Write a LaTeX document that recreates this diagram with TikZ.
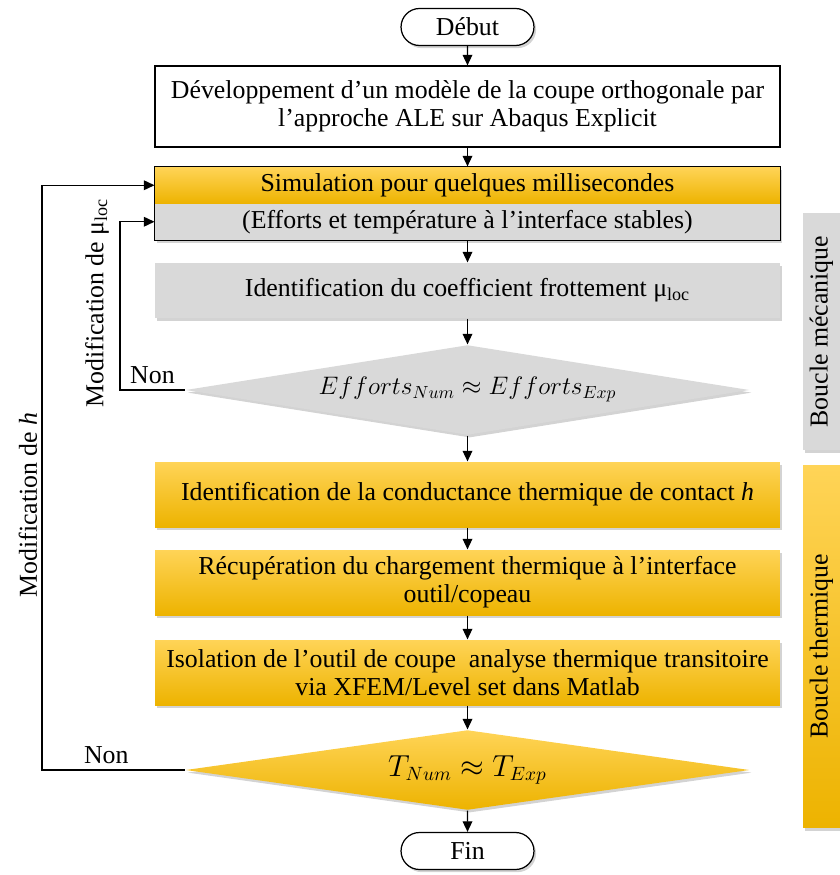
\documentclass[tikz,border=0pt]{standalone}
\usepackage{fontspec}
\setmainfont{Liberation Serif}
\usetikzlibrary{arrows.meta,shapes.geometric,shapes.misc,shadows}

\definecolor{orclair}{HTML}{FFD457}
\definecolor{ormoyen}{HTML}{FFC000}
\definecolor{orfonce}{HTML}{EDB300}
\definecolor{gris}{HTML}{D9D9D9}

\tikzset{
  ombre/.style={drop shadow={shadow xshift=1.2pt, shadow yshift=-1.5pt, opacity=0.35}},
  terminal/.style={rounded rectangle, draw, fill=white, minimum width=2.8cm,
    minimum height=0.74cm, inner sep=2pt, ombre},
  boite/.style={rectangle, minimum width=12.5cm, align=center, inner sep=2pt},
  boiteor/.style={boite, top color=orclair, middle color=ormoyen, bottom color=orfonce, ombre},
  boitegris/.style={boite, fill=gris, ombre},
  decision/.style={diamond, minimum width=11.28cm, inner sep=0pt, ombre},
}

\begin{document}
\begin{tikzpicture}[x=0.02cm, y=-0.02cm, font=\fontsize{14.7}{16}\selectfont,
    >={Triangle[length=6pt,width=5.5pt]}, line width=0.7pt]
  \useasboundingbox (0,0) rectangle (839,875);
  \def\xc{467.5}   % axe des boites

  % ----- chaine principale -----
  \node[terminal] (debut) at (\xc,27) {Début};
  \node[boite, draw, fill=white, minimum height=1.62cm] (modele) at (\xc,106.5)
    {Développement d’un modèle de la coupe orthogonale par\\ l’approche ALE sur Abaqus Explicit};
  \node[boiteor, minimum height=0.73cm] (simA) at (\xc,185.25)
    {Simulation pour quelques millisecondes};
  \node[boitegris, minimum height=0.73cm] (simB) at (\xc,221.75)
    {(Efforts et température à l’interface stables)};
  \draw (simA.north west) rectangle (simB.south east);
  \node[boitegris, minimum height=1.1cm] (ident) at (\xc,290.5)
    {Identification du coefficient frottement μ\textsubscript{loc}};
  \node[decision, fill=gris, aspect=6.27, minimum height=1.8cm] (effort) at (\xc,390)
    {\raisebox{5pt}{$Efforts_{Num} \approx Efforts_{Exp}$}};
  \node[boiteor, minimum height=1.3cm] (conduct) at (\xc,494.5)
    {Identification de la conductance thermique de contact \textit{h}};
  \node[boiteor, minimum height=1.3cm] (recup) at (\xc,582.5)
    {Récupération du chargement thermique à l’interface\\ outil/copeau};
  \node[boiteor, minimum height=1.3cm] (isol) at (\xc,672.5)
    {Isolation de l’outil de coupe~ analyse thermique transitoire\\ via XFEM/Level set dans Matlab};
  \node[decision, top color=orclair, middle color=ormoyen, bottom color=orfonce,
    aspect=7.05, minimum height=1.6cm] (temp) at (\xc,770)
    {\fontsize{16}{18}\selectfont $T_{Num} \approx T_{Exp}$};
  \node[terminal] (fin) at (\xc,851) {Fin};

  \foreach \a/\b in {debut/modele, modele/simA, simB/ident, ident/effort,
                     effort/conduct, conduct/recup, recup/isol, isol/temp, temp/fin}
    \draw[->] (\a) -- (\b);

  % ----- boucles de retour -----
  \coordinate (xmeca) at (120,0);
  \coordinate (xtherm) at (42,0);
  \draw[->] (effort.west) -- node[above]{Non} (effort.west -| xmeca) |- (simB.west);
  \draw[->] (temp.west) -- node[above, pos=0.55]{Non} (temp.west -| xtherm) |- (simA.west);
  \node[rotate=90] (modmu) at (97,303) {Modification de μ\textsubscript{loc}};
  \node[rotate=90] (modh) at (28,505) {Modification de \textit{h}};

  % ----- bandeaux lateraux -----
  \node[rotate=90, fill=gris, minimum width=4.74cm, minimum height=0.74cm, ombre]
    (bmeca) at (821.5,331.5) {Boucle mécanique};
  \node[rotate=90, top color=orclair, bottom color=orfonce, minimum width=7.26cm,
    minimum height=0.74cm, ombre] (btherm) at (821.5,646.5) {Boucle thermique};
\end{tikzpicture}
\end{document}
